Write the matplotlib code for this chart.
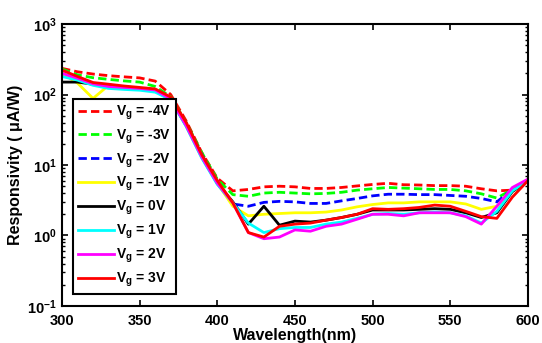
import numpy as np
from matplotlib import pyplot as plt
from matplotlib.ticker import LogLocator, NullFormatter

plt.rcParams['font.family'] = ['Liberation Sans', 'DejaVu Sans']
plt.rcParams['font.weight'] = 'bold'
plt.rcParams['mathtext.fontset'] = 'custom'
plt.rcParams['mathtext.rm'] = 'Liberation Sans:bold'
plt.rcParams['mathtext.it'] = 'Liberation Sans:bold'
plt.rcParams['mathtext.bf'] = 'Liberation Sans:bold'
plt.rcParams['mathtext.default'] = 'rm'

# ========================================== DATOS ==========================================

wavelength = np.arange(300, 601, 10)

vg_m4 = [235, 210, 195, 185, 178, 172, 155, 100, 42, 15, 6.5, 4.3, 4.5, 4.9, 5.0, 4.9,
         4.65, 4.65, 4.8, 5.05, 5.3, 5.5, 5.25, 5.2, 5.1, 5.1, 5.0, 4.6, 4.3, 4.4, 6.2]
vg_m3 = [230, 190, 173, 164, 156, 150, 130, 93, 40, 15, 6.3, 3.8, 3.6, 4.0, 4.1, 4.0,
         3.9, 3.95, 4.1, 4.4, 4.6, 4.8, 4.7, 4.6, 4.5, 4.5, 4.3, 3.9, 3.4, 4.5, 6.0]
vg_m2 = [195, 165, 138, 128, 124, 120, 113, 88, 38, 14, 5.8, 2.8, 2.6, 2.95, 3.05, 3.0,
         2.85, 2.85, 3.1, 3.35, 3.65, 3.85, 3.85, 3.8, 3.8, 3.7, 3.6, 3.35, 3.0, 4.5, 6.0]
vg_m1 = [200, 145, 88, 135, 128, 123, 115, 88, 37, 13, 5.5, 2.6, 1.9, 2.0, 2.05, 2.1,
         2.1, 2.15, 2.3, 2.55, 2.75, 2.9, 2.9, 3.0, 3.0, 3.0, 2.8, 2.35, 2.6, 4.2, 6.0]
vg_0 = [150, 150, 140, 130, 125, 120, 112, 85, 36, 13, 5.5, 3.0, 1.45, 2.6, 1.4, 1.6,
        1.55, 1.65, 1.8, 2.0, 2.3, 2.3, 2.3, 2.35, 2.4, 2.35, 2.1, 1.8, 2.1, 4.2, 6.0]
vg_1 = [180, 160, 135, 122, 118, 115, 108, 84, 35, 12.5, 5.3, 2.9, 1.5, 1.1, 1.25, 1.3,
        1.3, 1.45, 1.55, 1.75, 2.0, 2.05, 2.0, 2.1, 2.15, 2.1, 1.9, 1.5, 2.2, 4.3, 6.0]
vg_2 = [200, 170, 142, 130, 126, 122, 116, 86, 36, 13, 5.5, 2.9, 1.1, 0.9, 0.95, 1.2,
        1.15, 1.35, 1.45, 1.7, 2.0, 2.0, 1.9, 2.1, 2.1, 2.1, 1.85, 1.45, 2.6, 4.8, 6.3]
vg_3 = [222, 180, 148, 140, 132, 126, 120, 92, 40, 14, 6.0, 2.9, 1.1, 0.95, 1.35, 1.45,
        1.5, 1.65, 1.8, 2.0, 2.4, 2.35, 2.4, 2.5, 2.7, 2.6, 2.2, 1.85, 1.75, 3.5, 6.0]

series = [
    (vg_m4, "-4V", "#ff0000", True),
    (vg_m3, "-3V", "#00ff00", True),
    (vg_m2, "-2V", "#0000ff", True),
    (vg_m1, "-1V", "#ffff00", False),
    (vg_0, "0V", "#000000", False),
    (vg_1, "1V", "#00ffff", False),
    (vg_2, "2V", "#ff00ff", False),
    (vg_3, "3V", "#ff0000", False),
]

# ========================================== FIGURA ==========================================

fig = plt.figure(figsize=(5.42, 3.43), dpi=100)
ax = fig.add_axes([0.1144, 0.1079, 0.8596, 0.8221])

for vals, name, color, dashed in series:
    if dashed:
        ax.plot(wavelength, vals, color=color, lw=2, dashes=(3, 1.5),
                label=f"V$_g$ = {name}")
    else:
        ax.plot(wavelength, vals, color=color, lw=2, label=f"V$_g$ = {name}")

ax.set_yscale("log")
ax.set_xlim(300, 600)
ax.set_ylim(0.1, 1000)
ax.set_xticks([300, 350, 400, 450, 500, 550, 600])
ax.yaxis.set_major_locator(LogLocator(base=10, numticks=10))
ax.yaxis.set_minor_locator(LogLocator(base=10, subs=np.arange(2, 10), numticks=10))
ax.yaxis.set_minor_formatter(NullFormatter())

ax.tick_params(which="both", direction="in", top=True, right=True, labelsize=10.5)
ax.tick_params(which="major", length=4, width=1.2)
ax.tick_params(which="minor", length=2.5, width=1)
ax.tick_params(axis="x", pad=6)
for s in ax.spines.values():
    s.set_linewidth(1.5)

ax.set_xlabel("Wavelength(nm)", fontsize=11.5, fontweight="bold", labelpad=0)
ax.set_ylabel("Responsivity ( μA/W)", fontsize=11.5, fontweight="bold", labelpad=3)

leg = ax.legend(loc="upper left", bbox_to_anchor=(0.023, 0.735), fontsize=10,
                handlelength=2.6, handletextpad=0.2, labelspacing=0.4,
                borderpad=0.35, borderaxespad=0, fancybox=False, framealpha=1,
                edgecolor="black")
leg.get_frame().set_linewidth(1.5)

plt.savefig("out.png", dpi=100)
